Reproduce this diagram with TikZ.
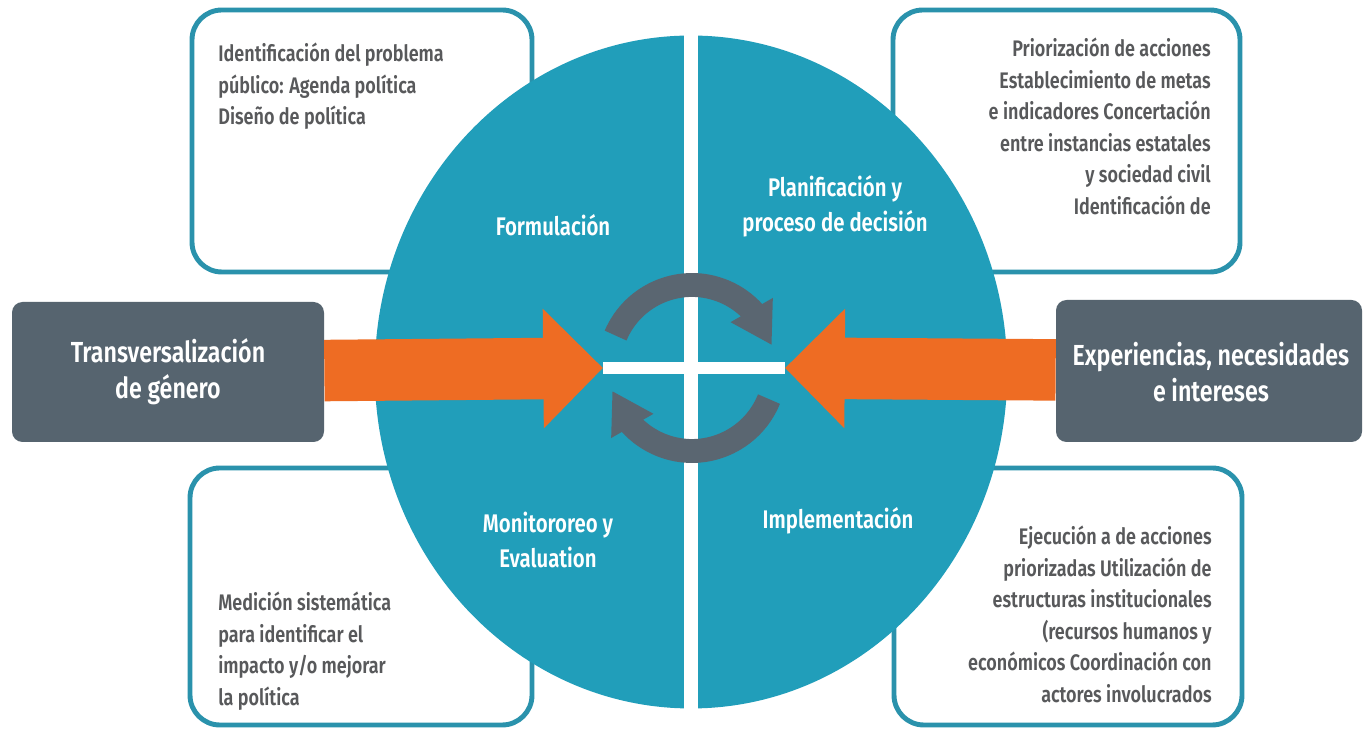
\documentclass[tikz,border=0pt]{standalone}
\usepackage{fontspec}
\setmainfont{Fira Sans}[FakeStretch=0.8,BoldFont={* SemiBold}]
\usetikzlibrary{arrows.meta,bending,shapes.geometric,fit}
\definecolor{ciclo}{HTML}{219EBA}
\definecolor{borde}{HTML}{2A92AC}
\definecolor{pizarra}{HTML}{56646F}
\definecolor{naranja}{HTML}{EE6C23}
\definecolor{giro}{HTML}{5A6671}
\definecolor{letra}{HTML}{58595B}

\begin{document}
\begin{tikzpicture}[x=0.02cm,y=0.02cm,
    infobox/.style={draw=borde,line width=2.8pt,rounded corners=17pt,fill=white,inner sep=0pt},
    tagbox/.style={fill=pizarra,rounded corners=6pt,inner sep=0pt},
    tagtxt/.style={inner sep=0pt,text=white,align=center,font=\fontsize{16.5}{20.5}\selectfont\bfseries},
    boxtxt/.style={inner sep=0pt,text=letra,font=\fontsize{12.8}{17.9}\selectfont\bfseries},
    etapa/.style={inner sep=0pt,text=white,align=center,font=\fontsize{14.5}{20}\selectfont\bfseries},
    flecha/.style={naranja,line width=35pt,-{Triangle[length=34pt,width=66pt]}},
    vuelta/.style={giro,line width=13.6pt,-{Triangle[length=23pt,width=26pt,flex]}}]
\useasboundingbox[fill=white] (0,0) rectangle (1368,729);

\node[infobox,fit={(192,719) (532,457)}] (tlbox) {};
\node[infobox,fit={(893,719) (1240,457)}] (trbox) {};
\node[infobox,fit={(190,261) (532,4)}] (blbox) {};
\node[infobox,fit={(894,261) (1242,4)}] (brbox) {};

\node[ellipse,fill=ciclo,inner sep=0pt,minimum width=360pt,minimum height=383pt] (disco) at (691,357) {};
\draw[white,line width=7.9pt] (disco.north) -- (disco.south);

\coordinate (cl) at (603,361);
\coordinate (cr) at (785,361);
\coordinate (eje) at (692,361);
\draw[white,line width=6.8pt] (cl) -- (cr);

\node[tagbox,fit={(12,427) (324,287)}] (tgen) {};
\node[tagbox,fit={(1056,429) (1362,287)}] (expe) {};
\node[tagtxt] (tgentxt) at (168,357) {Transversalización\\de género};
\node[tagtxt] (expetxt) at (1211,357) {Experiencias, necesidades\\e intereses};
\draw[flecha] (tgen) -- (cl);
\draw[flecha] (expe) -- (cr);

\draw[vuelta] ([shift={(157:83)}]eje) arc[start angle=157,end angle=16,radius=83];
\draw[vuelta] ([shift={(-22:83)}]eje) arc[start angle=-22,end angle=-164,radius=83];

\node[etapa] (form) at (553,504) {Formulación};
\node[etapa] (plan) at (835,523) {Planificación y\\proceso de decisión};
\node[etapa] (moni) at (548,189) {Monitororeo y\\Evaluation};
\node[etapa] (impl) at (838,208) {Implementación};

\node[boxtxt,anchor=north west,align=left] (tltxt) at (218,686)
    {Identificación del problema\\público: Agenda política\\Diseño de política};
\node[boxtxt,anchor=north east,align=right] (trtxt) at (1211,691)
    {Priorización de acciones\\Establecimiento de metas\\e indicadores Concertación\\entre instancias estatales\\y sociedad civil\\Identificación de};
\node[boxtxt,anchor=north west,align=left] (bltxt) at (218,137)
    {Medición sistemática\\para identificar el\\impacto y/o mejorar\\la política};
\node[boxtxt,anchor=north east,align=right] (brtxt) at (1212,203)
    {Ejecución a de acciones\\priorizadas Utilización de\\estructuras institucionales\\(recursos humanos y\\económicos Coordinación con\\actores involucrados};
\end{tikzpicture}
\end{document}
